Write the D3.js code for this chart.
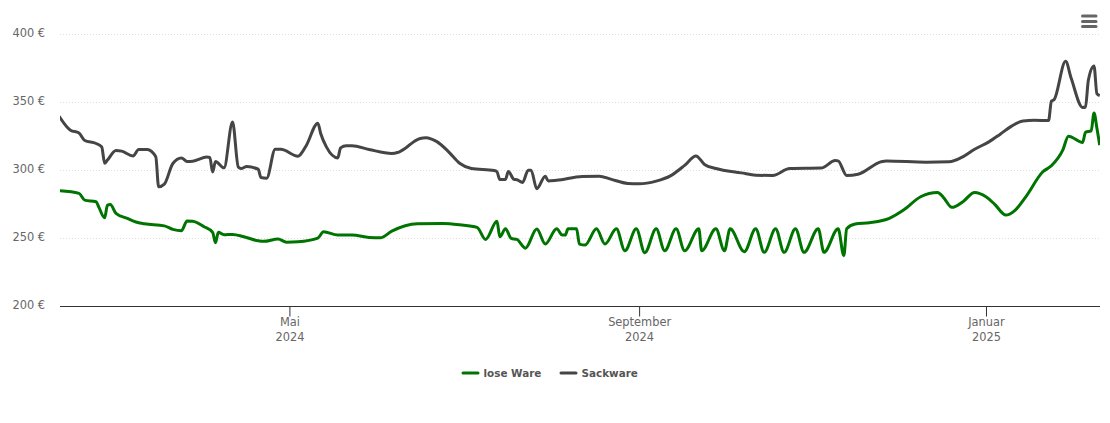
<!DOCTYPE html>
<html lang="de">
<head>
<meta charset="utf-8">
<title>Preisentwicklung</title>
<script src="https://d3js.org/d3.v7.min.js"></script>
<style>
  html, body { margin: 0; padding: 0; background: #fff; }
  text { font-family: "DejaVu Sans", sans-serif; }
  .achse text { fill: #666; font-size: 11.4px; }
</style>
</head>
<body>
<div id="grafik"></div>
<script>
const width = 1110;
const height = 423;
const inicio = Date.UTC(2024, 1, 10);

// [Tag seit 10.02.2024, Preis in €]
const loseWare = [
  [0,284.8],[7,282.9],[9,277.9],[13,276.7],[14,272.6],[16,264.9],[17,274.3],[18,274.8],[20,268.2],[24,264.5],
  [27,261.8],[30,260.5],[37,259],[40,256.4],[43,255.4],[45,262.5],[47,262.3],[51,258.3],[54,254.2],[55,246.5],
  [56,254.2],[58,252.4],[61,252.7],[65,251],[70,248],[72,247.6],[77,249.3],[80,247],[84,247.3],[91,250],
  [93,254.6],[98,252.2],[103,252.2],[109,250.5],[113,250.2],[117,255.1],[126,260.5],[135,260.8],[141,259.8],[147,257.9],
  [150,249],[154,262.3],[155,251],[157,256.8],[159,249.8],[161,249],[164,242.6],[168,256.6],[171,245.6],[175,256.8],
  [177,252.2],[178,252.2],[179,256.8],[182,256.8],[183,245.6],[185,244.9],[189,256.8],[192,245.6],[196,256.8],[199,240.7],
  [203,256.8],[206,239.2],[210,256.8],[213,240.7],[217,256.8],[220,240.7],[225,256.8],[226,240.7],[231,256.8],[234,240.7],
  [236,256.8],[241,240],[245,256.8],[248,239.5],[252,256.8],[255,239.5],[259,256.8],[262,239.5],[267,256.8],[269,239.5],
  [274,256.8],[276,237],[277,256.8],[280,260.3],[285,261.3],[292,264.5],[297,270.6],[303,280.4],[306,282.8],[309,283.6],
  [311,280],[314,272.6],[318,277],[322,283.6],[326,280.4],[329,275],[333,266.9],[336,270],[340,280.4],[346,298.8],
  [349,303.2],[353,314.7],[355,325],[360,320.4],[361,327.9],[363,328.9],[364,342.1],[365,331.1],[366,318.4]
];

const sackware = [
  [0,339.7],[4,329.4],[7,327.4],[9,321.8],[13,319.6],[15,317.1],[16,305.1],[17,307.4],[20,314.5],[22,314],
  [26,310.5],[28,315.2],[31,315.2],[34,309.8],[35,287.7],[37,289.7],[40,304.9],[43,309],[45,306.4],[47,306.6],
  [52,309.6],[53,309.3],[54,298.7],[55,306.4],[58,301.7],[61,335.5],[63,302.4],[64,301.2],[66,302.7],[70,300.7],
  [71,294.6],[73,294.1],[76,315.4],[78,315.4],[84,310.3],[85,311.8],[87,318.4],[91,334.6],[92,327],[94,317.1],
  [98,309],[99,316.4],[101,317.9],[103,317.9],[109,315.2],[117,312.3],[119,313],[122,316.5],[125,321.3],[127,323.3],
  [129,323.8],[131,322.8],[133,320.8],[137,313.5],[141,304.9],[145,301.2],[153,299.8],[154,298.8],[155,293.2],[157,293.2],
  [158,299],[160,293.2],[161,292.9],[163,291],[165,300],[166,300],[168,286.3],[171,295.6],[172,292.1],[175,292.6],
  [184,295.4],[190,295.6],[194,293.4],[200,290.2],[204,289.9],[210,291.9],[215,295.8],[220,303.5],[224,310.5],[227,304.2],
  [231,301.2],[240,298],[245,296.3],[251,296.1],[257,301.2],[268,301.5],[273,307.1],[274,306.8],[277,296.1],[281,297],
  [289,306.1],[291,306.8],[305,305.9],[313,306.1],[318,310],[322,315.4],[327,320.8],[331,326.5],[335,332.4],[339,336.2],
  [343,336.7],[348,336.5],[349,350.7],[350,352],[354,380.1],[356,367.4],[360,346.1],[361,346.5],[362,366.2],[364,376.7],
  [365,356.4],[366,354.9]
];

const serien = [
  { name: "lose Ware", color: "#007400", werte: loseWare, legendeX: 463 },
  { name: "Sackware", color: "#454545", werte: sackware, legendeX: 561 }
];

const tag = d => new Date(inicio + d * 864e5);

const svg = d3.select("#grafik")
  .append("svg")
  .attr("width", width)
  .attr("height", height)
  .style("display", "block");

const x = d3.scaleUtc()
  .domain([tag(0.31), tag(366.1)])
  .range([60, 1100]);

const y = d3.scaleLinear()
  .domain([200, 400])
  .range([306, 34.3]);

// Gitterlinien
svg.append("g")
  .selectAll("line")
  .data([250, 300, 350, 400])
  .enter()
  .append("line")
  .attr("x1", 60)
  .attr("x2", 1100)
  .attr("y1", d => Math.round(y(d)) + 0.5)
  .attr("y2", d => Math.round(y(d)) + 0.5)
  .attr("stroke", "#dedede")
  .attr("stroke-dasharray", "1,2");

// Y-Achse
const achseY = svg.append("g")
  .attr("class", "achse")
  .attr("transform", "translate(45,0)")
  .call(d3.axisLeft(y).tickValues([200, 250, 300, 350, 400]).tickSize(0).tickPadding(0).tickFormat(d => `${d} €`));
achseY.select(".domain").remove();
achseY.selectAll("text").attr("dy", "0.2em");

// X-Achse
const monate = [
  { datum: new Date(Date.UTC(2024, 4, 1)), monat: "Mai", jahr: "2024" },
  { datum: new Date(Date.UTC(2024, 8, 1)), monat: "September", jahr: "2024" },
  { datum: new Date(Date.UTC(2025, 0, 1)), monat: "Januar", jahr: "2025" }
];

const achseX = svg.append("g")
  .attr("class", "achse")
  .attr("transform", "translate(0,306.5)")
  .call(d3.axisBottom(x).tickValues(monate.map(m => m.datum)).tickSize(10).tickSizeOuter(0).tickFormat(""));
achseX.select(".domain").attr("stroke", "#333").attr("d", "M60,0H1100");
achseX.selectAll(".tick line").attr("stroke", "#333");

const beschriftung = svg.append("g")
  .attr("class", "achse")
  .selectAll("text")
  .data(monate)
  .enter()
  .append("text")
  .attr("text-anchor", "middle")
  .attr("x", d => x(d.datum) + 0.5)
  .attr("y", 326);
beschriftung.append("tspan").text(d => d.monat);
beschriftung.append("tspan")
  .attr("x", d => x(d.datum) + 0.5)
  .attr("dy", 15)
  .text(d => d.jahr);

// Linien
svg.append("clipPath")
  .attr("id", "flaeche")
  .append("rect")
  .attr("x", 60)
  .attr("y", 0)
  .attr("width", 1040)
  .attr("height", 306);

const linie = d3.line()
  .x(d => x(tag(d[0])))
  .y(d => y(d[1]))
  .curve(d3.curveMonotoneX);

svg.append("g")
  .attr("clip-path", "url(#flaeche)")
  .selectAll("path")
  .data(serien)
  .enter()
  .append("path")
  .attr("fill", "none")
  .attr("stroke", d => d.color)
  .attr("stroke-width", 3)
  .attr("stroke-linejoin", "round")
  .attr("d", d => linie(d.werte));

// Legende
const legende = svg.append("g")
  .selectAll("g")
  .data(serien)
  .enter()
  .append("g")
  .attr("transform", d => `translate(${d.legendeX},373)`);

legende.append("line")
  .attr("x2", 15)
  .attr("stroke", d => d.color)
  .attr("stroke-width", 3)
  .attr("stroke-linecap", "round");

legende.append("text")
  .attr("x", 20.5)
  .attr("y", 4)
  .attr("fill", "#555")
  .style("font-size", "10.4px")
  .style("font-weight", "bold")
  .text(d => d.name);

// Menü-Symbol
svg.append("g")
  .selectAll("line")
  .data([16, 21.5, 26.5])
  .enter()
  .append("line")
  .attr("x1", 1082.5)
  .attr("x2", 1096)
  .attr("y1", d => d)
  .attr("y2", d => d)
  .attr("stroke", "#666")
  .attr("stroke-width", 3)
  .attr("stroke-linecap", "round");
</script>
</body>
</html>
